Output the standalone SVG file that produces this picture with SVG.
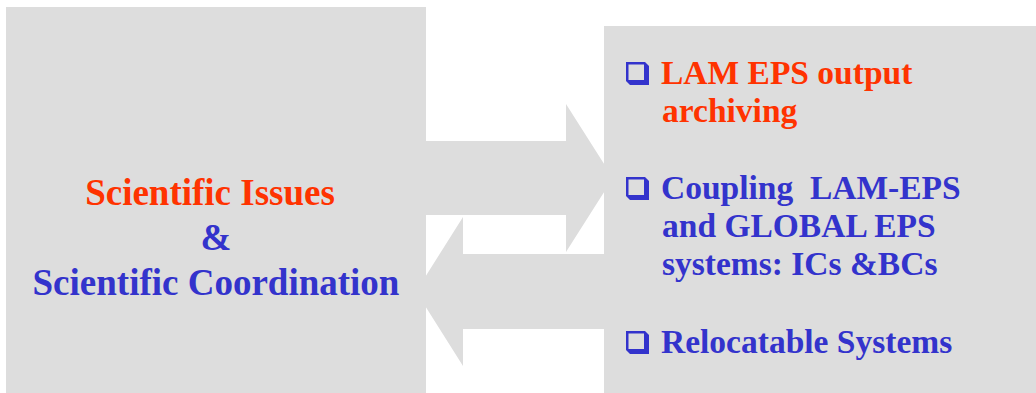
<svg xmlns="http://www.w3.org/2000/svg" width="1036" height="393" viewBox="0 0 1036 393">
  <style>
    .box { fill: #DDDDDD; }
    .arrow { fill: #DDDDDD; }
    .t { font-family: "Liberation Serif", "Times New Roman", serif; font-weight: bold; }
    .big { font-size: 37px; }
    .med { font-size: 33.5px; }
    .red { fill: #FF3300; }
    .blue { fill: #3333CC; }
    .bul-o { fill: #3333CC; }
    .bul-i { fill: #DDDDDD; }
  </style>
  <defs>
    <g id="bullet">
      <polygon class="bul-o" points="0,0 19,0 23,4 23,23 4,23 0,19"/>
      <rect class="bul-i" x="2.5" y="2.5" width="15.5" height="15.5"/>
    </g>
  </defs>
  <rect width="1036" height="393" fill="#FFFFFF"/>
  <g id="connectors">
    <polygon class="arrow" points="426,141 566,141 566,104 613,178 566,252 566,215 426,215"/>
    <polygon class="arrow" points="604,254 463,254 463,217 416,291.5 463,366 463,329 604,329"/>
  </g>
  <g id="node-left">
    <rect class="box" x="6" y="7" width="420" height="386"/>
    <text class="t big red" x="210" y="205" text-anchor="middle">Scientific Issues</text>
    <text class="t big blue" x="216" y="250" text-anchor="middle">&amp;</text>
    <text class="t big blue" x="216" y="295" text-anchor="middle">Scientific Coordination</text>
  </g>
  <g id="node-right">
    <rect class="box" x="604" y="26" width="432" height="367"/>
    <use href="#bullet" x="626" y="62"/>
    <text class="t med red" x="661" y="84">LAM EPS output</text>
    <text class="t med red" x="662" y="122">archiving</text>
    <use href="#bullet" x="626" y="177"/>
    <text class="t med blue" x="661" y="199" xml:space="preserve">Coupling  LAM-EPS</text>
    <text class="t med blue" x="662" y="237">and GLOBAL EPS</text>
    <text class="t med blue" x="662" y="275">systems: ICs &amp;BCs</text>
    <use href="#bullet" x="626" y="331"/>
    <text class="t med blue" x="661" y="353">Relocatable Systems</text>
  </g>
</svg>
